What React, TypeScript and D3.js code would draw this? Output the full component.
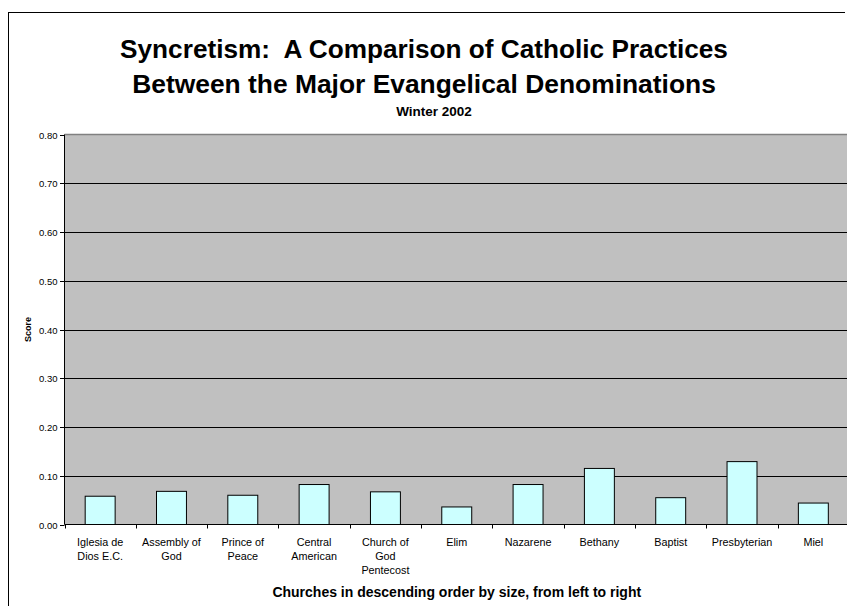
import React from 'react';
import * as d3 from 'd3';

// Chart data
const churches: string[][] = [
    ['Iglesia de', 'Dios E.C.'],
    ['Assembly of', 'God'],
    ['Prince of', 'Peace'],
    ['Central', 'American'],
    ['Church of', 'God', 'Pentecost'],
    ['Elim'],
    ['Nazarene'],
    ['Bethany'],
    ['Baptist'],
    ['Presbyterian'],
    ['Miel'],
];
const scores: number[] = [0.058, 0.068, 0.060, 0.082, 0.067, 0.036, 0.082, 0.115, 0.055, 0.129, 0.044];
const yTicks: number[] = [0, 0.1, 0.2, 0.3, 0.4, 0.5, 0.6, 0.7, 0.8];
const titleLines: string[] = [
    'Syncretism:  A Comparison of Catholic Practices',
    'Between the Major Evangelical Denominations',
];
const subtitle = 'Winter 2002';
const xTitle = 'Churches in descending order by size, from left to right';
const yTitle = 'Score';

const W = 847;
const H = 606;
const FONT = 'Liberation Sans, Arial, sans-serif';

function App() {
    // Plot area (right edge runs slightly past the window, like the original)
    const plot = { left: 64.5, right: 849, top: 134.5, bottom: 524.5 };

    const keys = churches.map((_, i) => String(i));
    const x = d3.scaleBand<string>()
        .domain(keys)
        .range([plot.left, plot.right])
        .padding(0);
    const y = d3.scaleLinear()
        .domain([0, 0.8])
        .range([plot.bottom, plot.top]);

    const bw = x.bandwidth();
    const barW = bw * 0.42;
    const fmt = d3.format('.2f');

    return (
        <svg width={W} height={H} style={{ position: 'absolute', left: 0, top: 0, background: '#fff' }}
            fontFamily={FONT}>
            {/* chart frame */}
            <line x1={8.5} y1={12.5} x2={8.5} y2={H} stroke="#000" />
            <line x1={8} y1={12.5} x2={845} y2={12.5} stroke="#000" />

            {/* titles */}
            <g fontWeight="bold" textAnchor="middle">
                <text x={424} y={58} fontSize={26.2} xmlSpace="preserve" style={{ whiteSpace: 'pre' }}>
                    {titleLines[0]}
                </text>
                <text x={424} y={93} fontSize={26.4}>{titleLines[1]}</text>
                <text x={434} y={116} fontSize={13.5}>{subtitle}</text>
            </g>

            {/* plot background */}
            <rect x={plot.left} y={plot.top} width={plot.right - plot.left} height={plot.bottom - plot.top}
                fill="#c0c0c0" />
            <line x1={plot.left} x2={plot.right} y1={y(0.8)} y2={y(0.8)} stroke="#808080" strokeWidth={1.5} />

            {/* gridlines */}
            {yTicks.filter(t => t > 0 && t < 0.8).map(t => (
                <line key={t} x1={plot.left} x2={plot.right} y1={Math.round(y(t)) + 0.5} y2={Math.round(y(t)) + 0.5}
                    stroke="#000" />
            ))}

            {/* bars */}
            {scores.map((v, i) => {
                const cx = x(keys[i])! + bw / 2;
                return (
                    <rect key={i} x={cx - barW / 2} y={y(v)} width={barW} height={y(0) - y(v)}
                        fill="#ccffff" stroke="#000" strokeWidth={1} />
                );
            })}

            {/* y axis */}
            <line x1={plot.left} x2={plot.left} y1={plot.top} y2={plot.bottom} stroke="#000" />
            {yTicks.map(t => (
                <g key={t} transform={`translate(0,${Math.round(y(t)) + 0.5})`}>
                    <line x1={plot.left - 4.5} x2={plot.left} stroke="#000" />
                    <text x={plot.left - 7} dy="0.33em" textAnchor="end" fontSize={9.5}>{fmt(t)}</text>
                </g>
            ))}
            <text transform={`translate(31,${(plot.top + plot.bottom) / 2}) rotate(-90)`} textAnchor="middle"
                fontSize={9} fontWeight="bold">{yTitle}</text>

            {/* x axis */}
            <line x1={plot.left} x2={plot.right} y1={plot.bottom} y2={plot.bottom} stroke="#000" />
            {keys.map(k => (
                <line key={k} x1={Math.round(x(k)!) + 0.5} x2={Math.round(x(k)!) + 0.5}
                    y1={plot.bottom} y2={plot.bottom + 4} stroke="#000" />
            ))}
            {churches.map((lines, i) => (
                <text key={i} x={x(keys[i])! + bw / 2} textAnchor="middle" fontSize={10.8}>
                    {lines.map((s, j) => (
                        <tspan key={j} x={x(keys[i])! + bw / 2} y={545.5 + j * 14}>{s}</tspan>
                    ))}
                </text>
            ))}
            <text x={(plot.left + plot.right) / 2} y={597} textAnchor="middle" fontSize={14} fontWeight="bold">
                {xTitle}
            </text>
        </svg>
    );
}

export default App;
